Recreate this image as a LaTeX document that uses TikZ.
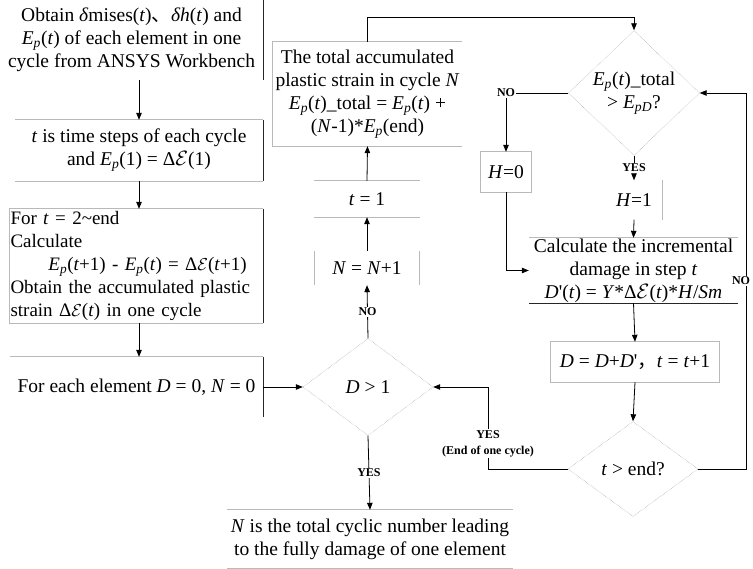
\documentclass[tikz,border=0pt]{standalone}
\usepackage{fontspec}
\setmainfont{Liberation Serif}
\newfontfamily\cjk{Noto Sans CJK SC}
\usetikzlibrary{arrows.meta, positioning, calc, shapes.geometric}
\newcommand{\Ep}{\textit{E}\textsubscript{\textit{p}}}
\newcommand{\dE}{Δ$\mathcal{E}$}

\begin{document}
\begin{tikzpicture}[x=1pt, y=-1pt,
  txt/.style={font=\fontsize{19.5}{23}\selectfont, align=center, inner sep=0pt},
  dec/.style={diamond, draw=gray, densely dotted, inner sep=0pt, font=\fontsize{19.5}{23}\selectfont, align=center},
  lbl/.style={font=\fontsize{12}{16}\selectfont\bfseries, fill=white, inner sep=1pt, align=center},
  arr/.style={-{Triangle[length=7pt, width=5.5pt]}, line width=0.8pt},
  ln/.style={line width=0.8pt},
  edgeg/.style={draw=gray!55, line width=0.7pt},
  edgek/.style={draw=black!85, line width=0.8pt}
]
  \useasboundingbox (0,0) rectangle (753,569);

  % Left column
  \node[txt, minimum width=263pt, minimum height=80pt] (obtain) at (131.5,40)
    {Obtain \textit{δ}mises(\textit{t}){\cjk 、}\textit{δh}(\textit{t}) and\\
     \Ep(\textit{t}) of each element in one\\
     cycle from ANSYS Workbench};
  \node[txt, minimum width=248pt, minimum height=61pt] (tstep) at (139,150.5)
    {\textit{t} is time steps of each cycle\\ and \Ep(1) = \dE(1)};
  \node[txt, font=\fontsize{19}{23}\selectfont, align=left, text width=252pt,
        minimum width=253pt, minimum height=114pt] (fort) at (136.5,266)
    {For \textit{t} = 2\textasciitilde end\\
     Calculate\\
     \hspace*{2em}\Ep(\textit{t}+1) - \Ep(\textit{t}) = \dE(\textit{t}+1)\\
     Obtain the accumulated plastic\\
     strain \dE(\textit{t}) in one cycle};
  \node[txt, minimum width=253pt, minimum height=60pt] (init) at (136.5,387)
    {For each element \textit{D} = 0, \textit{N} = 0};

  % Middle column
  \node[dec, minimum width=130pt, minimum height=97pt] (dgt) at (368,387) {\textit{D} > 1};
  \node[txt, minimum width=286pt, minimum height=58pt] (result) at (370,539)
    {\textit{N} is the total cyclic number leading\\ to the fully damage of one element};
  \node[txt, minimum width=104pt, minimum height=34pt] (nplus) at (367,268) {\textit{N} = \textit{N}+1};
  \node[txt, minimum width=105pt, minimum height=36pt] (tone) at (367,199) {\textit{t} = 1};
  \node[txt, minimum width=189pt, minimum height=104pt] (total) at (367.5,94)
    {The total accumulated\\ plastic strain in cycle \textit{N}\\
     \Ep(\textit{t})\_total = \Ep(\textit{t}) +\\ (\textit{N}-1)*\Ep(end)};

  % Right column
  \node[dec, minimum width=131pt, minimum height=106pt] (epd) at (634,93)
    {\Ep(\textit{t})\_total\\ > \textit{E}\textsubscript{\textit{pD}}?};
  \node[txt, minimum width=50pt, minimum height=40pt] (hzero) at (506,172) {\textit{H}=0};
  \node[txt, minimum width=56pt, minimum height=39pt] (hone) at (634,200) {\textit{H}=1};
  \node[txt, minimum width=209pt, minimum height=65pt] (calc) at (633.5,270.5)
    {Calculate the incremental\\ damage in step \textit{t}\\
     \textit{D}\textquotesingle(\textit{t}) = \textit{Y}*\dE(\textit{t})*\textit{H}/\textit{Sm}};
  \node[txt, minimum width=168pt, minimum height=40pt] (dupd) at (635,362)
    {\textit{D} = \textit{D}+\textit{D}\textquotesingle{\cjk ，}\textit{t} = \textit{t}+1};
  \node[dec, minimum width=130pt, minimum height=95pt] (tend) at (633,469) {\textit{t} > end?};

  % Box edges
  \draw[edgek] (obtain.north east) -- (obtain.south east);
  \draw[edgeg] (tstep.north west) -- (tstep.north east) (tstep.south west) -- (tstep.south east);
  \draw[edgek] (tstep.north east) -- (tstep.south east);
  \draw[edgeg] (fort.north east) -- (fort.north west) -- (fort.south west) -- (fort.south east);
  \draw[edgek] (fort.north east) -- (fort.south east);
  \draw[edgeg] (init.north west) -- (init.north east);
  \draw[edgek] (init.north east) -- (init.south east);
  \draw[edgeg] (result.north west) -- (result.north east) (result.south west) -- (result.south east);
  \draw[edgeg] (nplus.north west) -- (nplus.south west) (nplus.north east) -- (nplus.south east);
  \draw[edgeg] (tone.north west) -- (tone.north east) (tone.south west) -- (tone.south east);
  \draw[edgeg] (total.north east) -- (total.north west) -- (total.south west) -- (total.south east);
  \draw[edgeg] (hzero.north west) rectangle (hzero.south east);
  \draw[edgeg] (hone.north east) -- (hone.south east);
  \draw[edgeg] (calc.north west) -- (calc.north east);
  \draw[edgek] (calc.south west) -- (calc.south east);
  \draw[edgeg] (dupd.north west) rectangle (dupd.south east);

  % Connectors
  \draw[arr] (tstep.north |- obtain.south) -- (tstep.north);
  \draw[arr] (tstep.south) -- (tstep.south |- fort.north);
  \draw[arr] (fort.south -| tstep.south) -- (init.north -| tstep.south);
  \draw[arr] (init.east) -- (dgt.west);
  \draw[arr] (dgt.south) -- node[lbl] {YES} (result.north);
  \draw[arr] (dgt.north) -- node[lbl] {NO} (nplus.south);
  \draw[arr] (nplus.north) -- (tone.south);
  \draw[arr] (tone.north) -- (total.south);
  \coordinate (toprail) at (0,17);
  \draw[arr] (total.north) -- (total.north |- toprail) -| (epd.north);
  \node[lbl] (nolbl) at (506,93) {NO};
  \draw[ln] (epd.west) -- (nolbl.east);
  \draw[arr] (nolbl.south) -- (hzero.north);
  \draw[arr] (epd.south) -- node[lbl] {YES} (hone.north);
  \draw[arr] (hzero.south) |- (calc.west);
  \draw[arr] (hone.south) -- (calc.north);
  \draw[arr] (calc.south) -- (dupd.north);
  \draw[arr] (dupd.south) -- (tend.north);
  \coordinate (rrail) at (746,0);
  \draw[arr] (tend.east) -- (tend.east -| rrail)
    -- node[lbl, xshift=-5pt] {NO} (epd.east -| rrail) -- (epd.east);
  \coordinate (lrail) at (488,0);
  \draw[arr] (tend.west) -- (tend.west -| lrail)
    -- node[lbl, pos=0.31] {YES\\(End of one cycle)} (dgt.east -| lrail) -- (dgt.east);
\end{tikzpicture}
\end{document}
